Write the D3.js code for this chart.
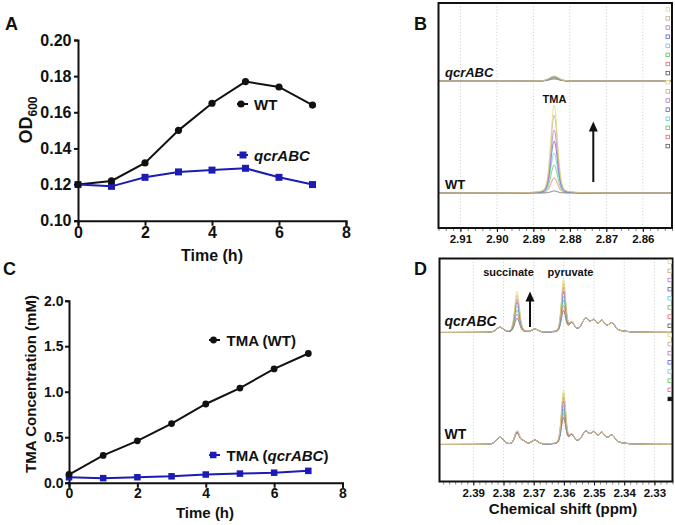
<!DOCTYPE html>
<html><head><meta charset="utf-8">
<script src="https://cdn.jsdelivr.net/npm/d3@7"></script>
<style>
body{margin:0;background:#fff}
text{font-family:"Liberation Sans",Arial,sans-serif;font-weight:bold;fill:#111}
</style>
</head><body><svg id="c" width="675" height="525"></svg>
<script>
// ---------- DATA ----------
const hours = [0,1,2,3,4,5,6,7];
const odWT  = [0.120,0.122,0.132,0.150,0.165,0.177,0.174,0.164];
const odQcr = [0.120,0.119,0.124,0.127,0.128,0.129,0.124,0.120];
const odTicks = [0.10,0.12,0.14,0.16,0.18,0.20];
const timeTicks = [0,2,4,6,8];
const tmaWT  = [0.09,0.30,0.46,0.65,0.865,1.04,1.25,1.42];
const tmaQcr = [0.06,0.05,0.06,0.07,0.09,0.10,0.11,0.13];
const tmaTicks = [0,0.5,1.0,1.5,2.0];
// spectra colours, time point 0..7
const traceColors = ["#555555","#e8646e","#5cc25c","#62cdd6","#5c5cc8","#b873d2","#c6aa84","#e2da78"];
// Panel B (TMA region)
const bTicks = [2.91,2.90,2.89,2.88,2.87,2.86];
const tmaPeakPpm = 2.8843;
const tmaPeakWidthWT = 0.0022;
const tmaPeakWidthQcr = 0.0030;
const tmaPeakWT  = [2,15,28,40,52,63,78,88];
const tmaPeakQcr = [2,2.5,3,3.5,4,4.5,4.5,5];
// Panel D (succinate / pyruvate region)
const dTicks = [2.39,2.38,2.37,2.36,2.35,2.34,2.33];
const dPeakPpm   = [2.3812,2.3734,2.3696,2.3574,2.3528,2.3501,2.3474,2.3441,2.3490];
const dPeakWidth = [0.0028,0.0020,0.0026,0.0020,0.0026,0.0020,0.0020,0.0024,0.0120];
const dPeakQcr   = [5,0.5,3,8,10,7,7,6.5,5];
const dPeakWT    = [7,3,4,8,9,7,7,6,5];
const succinatePpm = 2.3755, succinateWidth = 0.0019;
const succinateQcr = [14,18,22,26,30,33,37,41];
const succinateWT  = [11,11,12,12,12,13,13,13];
const pyruvatePpm = 2.3601, pyruvateWidth = 0.0017;
const pyruvateQcr = [21,26,31,35,40,44,48,52];
const pyruvateWT  = [26,30,34,38,42,46,50,53];

// ---------- DRAW ----------
const svg = d3.select("#c");
const blue = "#1c1cb4";

function styleAxis(g, fs){
  g.selectAll("path").attr("stroke","#111").attr("stroke-width",2);
  g.selectAll("line").attr("stroke","#111").attr("stroke-width",2);
  g.selectAll("text").attr("font-size",fs).attr("font-family","Liberation Sans, Arial, sans-serif").attr("font-weight","bold").attr("fill","#111");
}
function panelLabel(t,x,y){svg.append("text").attr("x",x).attr("y",y).attr("font-size",18).text(t);}

function lineChart(o){
  const x = d3.scaleLinear().domain([0,8]).range(o.xr);
  const y = d3.scaleLinear().domain(o.yd).range(o.yr);
  const gx = svg.append("g").attr("transform",`translate(0,${o.yr[0]})`)
    .call(d3.axisBottom(x).tickValues(timeTicks).tickSize(5).tickPadding(o.xpad).tickFormat(d3.format("d")));
  styleAxis(gx,o.fs);
  const gy = svg.append("g").attr("transform",`translate(${o.xr[0]},0)`)
    .call(d3.axisLeft(y).tickValues(o.yt).tickSize(4).tickPadding(o.ypad).tickFormat(o.yf));
  styleAxis(gy,o.fs);
  const ln = d3.line().x((d,i)=>x(hours[i])).y(d=>y(d));
  svg.append("path").attr("d",ln(o.wt)).attr("fill","none").attr("stroke","#111").attr("stroke-width",2);
  svg.append("path").attr("d",ln(o.q)).attr("fill","none").attr("stroke",blue).attr("stroke-width",2);
  svg.selectAll(null).data(o.q).join("rect").attr("x",(d,i)=>x(hours[i])-o.sq/2).attr("y",d=>y(d)-o.sq/2)
    .attr("width",o.sq).attr("height",o.sq).attr("fill",blue);
  svg.selectAll(null).data(o.wt).join("circle").attr("cx",(d,i)=>x(hours[i])).attr("cy",d=>y(d)).attr("r",o.r).attr("fill","#111");
  return {x,y};
}

// Panel A
panelLabel("A",5,30);
lineChart({xr:[78,346], yd:[0.10,0.20], yr:[220.7,40], yt:odTicks, yf:d3.format(".2f"),
  wt:odWT, q:odQcr, fs:16, xpad:1, ypad:2.5, r:3.6, sq:7});
svg.append("text").attr("x",212).attr("y",261).attr("text-anchor","middle").attr("font-size",16).text("Time (h)");
{
  const t = svg.append("text").attr("transform","translate(32,120) rotate(-90)").attr("text-anchor","middle").attr("font-size",18);
  t.append("tspan").text("OD");
  t.append("tspan").attr("font-size",12).attr("dy",5).text("600");
}
// A legend
svg.append("line").attr("x1",237).attr("x2",248).attr("y1",104).attr("y2",104).attr("stroke","#111").attr("stroke-width",2);
svg.append("circle").attr("cx",241).attr("cy",104).attr("r",3.6).attr("fill","#111");
svg.append("text").attr("x",254).attr("y",109.5).attr("font-size",15).text("WT");
svg.append("line").attr("x1",237).attr("x2",248).attr("y1",155).attr("y2",155).attr("stroke",blue).attr("stroke-width",2);
svg.append("rect").attr("x",239.5).attr("y",151.5).attr("width",7).attr("height",7).attr("fill",blue);
svg.append("text").attr("x",254).attr("y",160.5).attr("font-size",15).attr("font-style","italic").text("qcrABC");

// Panel C
panelLabel("C",3,275);
lineChart({xr:[69,342.5], yd:[0,2], yr:[482.7,300.7], yt:tmaTicks, yf:d3.format(".1f"),
  wt:tmaWT, q:tmaQcr, fs:14, xpad:0, ypad:1.5, r:3.4, sq:6.5});
svg.append("text").attr("x",205).attr("y",518).attr("text-anchor","middle").attr("font-size",15).text("Time (h)");
svg.append("text").attr("transform","translate(36,384) rotate(-90)").attr("text-anchor","middle").attr("font-size",15).text("TMA Concentration (mM)");
svg.append("line").attr("x1",209).attr("x2",220).attr("y1",340).attr("y2",340).attr("stroke","#111").attr("stroke-width",2);
svg.append("circle").attr("cx",213.5).attr("cy",340).attr("r",3.4).attr("fill","#111");
svg.append("text").attr("x",226.5).attr("y",345.5).attr("font-size",15).text("TMA (WT)");
svg.append("line").attr("x1",209).attr("x2",220).attr("y1",455).attr("y2",455).attr("stroke",blue).attr("stroke-width",2);
svg.append("rect").attr("x",210).attr("y",451.75).attr("width",6.5).attr("height",6.5).attr("fill",blue);
{
  const t = svg.append("text").attr("x",226.5).attr("y",460.5).attr("font-size",15);
  t.append("tspan").text("TMA (");
  t.append("tspan").attr("font-style","italic").text("qcrABC");
  t.append("tspan").text(")");
}

// ---------- spectra ----------
function pv(x,c,w){
  const u=(x-c)/w;
  return 0.75*Math.exp(-4*Math.LN2*u*u)+0.25/(1+4*u*u);
}
function spectrumPanel(o){
  const x = d3.scaleLinear().domain(o.xd).range([o.x0,o.x1]);
  const y = d3.scaleLinear().domain(o.yd).range([o.y1,o.y0]);
  const id = "clip"+o.name;
  svg.append("clipPath").attr("id",id).append("rect").attr("x",o.x0).attr("y",o.y0).attr("width",o.x1-o.x0).attr("height",o.y1-o.y0);
  svg.append("g").selectAll("line").data(o.ticks).join("line")
    .attr("x1",d=>x(d)).attr("x2",d=>x(d)).attr("y1",o.y0).attr("y2",o.y1)
    .attr("stroke","#c4c4c4").attr("stroke-width",0.8).attr("stroke-dasharray","1.2,2");
  const minor = d3.range(Math.ceil(o.xd[1]*500), Math.floor(o.xd[0]*500)+1).map(v=>v/500);
  const gm = svg.append("g").attr("transform",`translate(0,${o.y1})`)
    .call(d3.axisBottom(x).tickValues(minor).tickSize(3).tickFormat(""));
  gm.select("path").remove();
  gm.selectAll("line").attr("stroke","#666").attr("stroke-width",0.8);
  const gx = svg.append("g").attr("transform",`translate(0,${o.y1})`)
    .call(d3.axisBottom(x).tickValues(o.ticks).tickSize(4).tickPadding(3).tickFormat(d3.format(".2f")));
  gx.select("path").remove();
  styleAxis(gx,11.5);
  gx.selectAll("line").attr("stroke-width",1);
  const samples = d3.range(o.xd[1], o.xd[0]+0.0001, 0.0001);
  const g = svg.append("g").attr("clip-path",`url(#${id})`);
  o.sets.forEach(s=>{
    for(let t=0;t<8;t++){
      const pts = samples.map(p=>[p, s.offset + s.fn(p,t)]);
      g.append("path").attr("d", d3.line().x(d=>x(d[0])).y(d=>y(d[1]))(pts))
        .attr("fill","none").attr("stroke",traceColors[t]).attr("stroke-width",0.75);
    }
  });
  svg.append("rect").attr("x",o.x0).attr("y",o.y0).attr("width",o.x1-o.x0).attr("height",o.y1-o.y0)
    .attr("fill","none").attr("stroke","#111").attr("stroke-width",2);
  o.legendY.forEach((yy,i)=>{
    const filled = o.lastFilled && i===o.legendY.length-1;
    svg.append("rect").attr("x",o.legX).attr("y",yy-1.75).attr("width",3.5).attr("height",3.5)
      .attr("fill",filled?"#111":"#fff").attr("stroke",filled?"#111":traceColors[7-(i%8)]).attr("stroke-width",0.8);
  });
  return {x,y};
}
function arrow(x,yb,yt){
  svg.append("line").attr("x1",x).attr("x2",x).attr("y1",yb).attr("y2",yt+8).attr("stroke","#111").attr("stroke-width",2);
  svg.append("path").attr("d",`M${x},${yt}L${x-4.5},${yt+10}L${x+4.5},${yt+10}Z`).attr("fill","#111");
}

// Panel B
panelLabel("B",414,30);
spectrumPanel({name:"B", x0:438.5, x1:672, y0:3, y1:228, xd:[2.916,2.852], yd:[-35,190], ticks:bTicks,
  legX:666, legendY:d3.range(16).map(i=>9.3+i*9.12), lastFilled:false,
  sets:[
    {offset:0,   fn:(p,t)=>tmaPeakWT[t]*pv(p,tmaPeakPpm,tmaPeakWidthWT)},
    {offset:112, fn:(p,t)=>tmaPeakQcr[t]*pv(p,tmaPeakPpm,tmaPeakWidthQcr)}
  ]});
svg.append("text").attr("x",445).attr("y",77).attr("font-size",13).attr("font-style","italic").text("qcrABC");
svg.append("text").attr("x",554.5).attr("y",103).attr("text-anchor","middle").attr("font-size",11).text("TMA");
svg.append("text").attr("x",445).attr("y",188.5).attr("font-size",13).text("WT");
arrow(593.3,182,121.5);

// Panel D
panelLabel("D",414,275);
function dSum(p,t,fixed,succ,pyr){
  let v=0;
  for(let k=0;k<dPeakPpm.length;k++) v+=fixed[k]*pv(p,dPeakPpm[k],dPeakWidth[k]);
  v+=succ[t]*pv(p,succinatePpm,succinateWidth);
  v+=pyr[t]*pv(p,pyruvatePpm,pyruvateWidth);
  return v;
}
spectrumPanel({name:"D", x0:439.5, x1:672.5, y0:258.5, y1:481.5, xd:[2.4012,2.324], yd:[-37,186], ticks:dTicks,
  legX:668, legendY:d3.range(16).map(i=>261.7+i*9.15), lastFilled:true,
  sets:[
    {offset:0,   fn:(p,t)=>dSum(p,t,dPeakWT,succinateWT,pyruvateWT)},
    {offset:112, fn:(p,t)=>dSum(p,t,dPeakQcr,succinateQcr,pyruvateQcr)}
  ]});
svg.append("text").attr("x",508.5).attr("y",275.5).attr("text-anchor","middle").attr("font-size",11).text("succinate");
svg.append("text").attr("x",570.5).attr("y",275.5).attr("text-anchor","middle").attr("font-size",11).text("pyruvate");
svg.append("text").attr("x",444.5).attr("y",325.5).attr("font-size",14).attr("font-style","italic").text("qcrABC");
svg.append("text").attr("x",444.5).attr("y",438.7).attr("font-size",14).text("WT");
arrow(530,327,291.5);
svg.append("text").attr("x",563).attr("y",514).attr("text-anchor","middle").attr("font-size",15).text("Chemical shift (ppm)");
</script>
</body></html>
